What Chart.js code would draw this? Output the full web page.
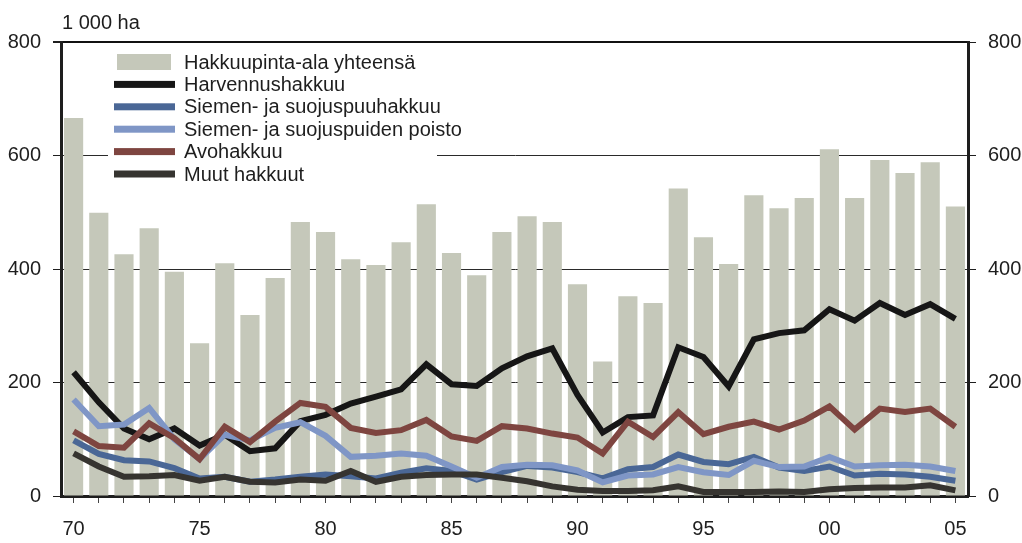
<!DOCTYPE html>
<html><head><meta charset="utf-8">
<script src="https://cdn.jsdelivr.net/npm/chart.js@4"></script>
<style>html,body{margin:0;padding:0;background:#fff}#wrap{width:1022px;height:543px;position:relative}</style>
</head><body><div id="wrap"><canvas id="c" width="1022" height="543"></canvas></div>
<script>
const years = [1970,1971,1972,1973,1974,1975,1976,1977,1978,1979,1980,1981,1982,1983,1984,1985,1986,1987,1988,1989,1990,1991,1992,1993,1994,1995,1996,1997,1998,1999,2000,2001,2002,2003,2004,2005];
const yTicks = [0,200,400,600,800];
const unitLabel = '1 000 ha';
const seriesNames = ['Hakkuupinta-ala yhteensä','Harvennushakkuu','Siemen- ja suojuspuuhakkuu','Siemen- ja suojuspuiden poisto','Avohakkuu','Muut hakkuut'];
const total = [666,499,426,472,395,269,410,319,384,483,465,417,407,447,514,428,389,465,493,483,373,237,352,340,542,456,409,530,507,525,611,525,592,569,588,510];
const harvennus = [218,165,119,100,119,89,108,79,84,132,143,163,175,188,232,197,194,225,246,260,178,112,139,142,262,245,193,276,287,292,329,309,340,319,338,312];
const siemenHakkuu = [98,74,63,61,49,31,34,25,29,34,38,35,31,41,49,44,29,42,53,50,42,31,47,51,73,60,56,69,50,44,52,36,39,38,34,27];
const siemenPoisto = [170,123,126,155,100,65,108,98,120,130,106,69,71,75,71,52,32,51,55,54,45,24,36,38,51,42,37,62,51,52,69,52,54,55,52,44];
const avohakkuu = [114,88,85,128,102,65,122,95,131,164,157,120,111,116,134,105,97,123,119,110,103,75,131,104,148,109,122,131,117,133,158,117,154,148,154,122];
const muut = [75,52,34,35,37,27,34,25,24,29,27,44,25,34,37,38,38,32,26,17,11,9,9,10,17,7,7,7,8,7,12,14,15,15,19,10];

const FONT = "'Liberation Sans', Arial, Helvetica, sans-serif";
const TXT = '#1e1e1e';
const colors = ['#c5c8ba','#161616','#4a6796','#7f96c6','#7e4540','#363430'];

const lineDs = (label, data, color, order) => ({
  type:'line', label, data, borderColor:color, backgroundColor:color, borderWidth:6,
  pointRadius:0, tension:0, borderJoinStyle:'miter', borderCapStyle:'butt', fill:false, order, yAxisID:'y'
});

const legendPlugin = {
  id:'inlegend',
  beforeDatasetsDraw(chart){
    const ctx = chart.ctx; ctx.save();
    ctx.fillStyle = '#fff'; ctx.fillRect(108, 47, 329, 138);
    ctx.restore();
  },
  afterDraw(chart){
    const ctx = chart.ctx; ctx.save();
    const ds = chart.data.datasets;
    ctx.font = '20px ' + FONT; ctx.textBaseline = 'middle'; ctx.fillStyle = TXT;
    for (let i = 0; i < ds.length; i++) {
      const cy = 62 + i * 22.4;
      if (ds[i].type === 'bar') {
        ctx.fillStyle = ds[i].backgroundColor; ctx.fillRect(117, cy - 8, 54, 16);
      } else {
        ctx.fillStyle = ds[i].borderColor; ctx.fillRect(114, cy - 3.5, 61, 7);
      }
      ctx.fillStyle = TXT; ctx.fillText(ds[i].label, 184, cy + 1);
    }
    ctx.textBaseline = 'alphabetic';
    ctx.fillText(unitLabel, 62, 29);
    ctx.restore();
  }
};

const yCommon = {
  min:0, max:800,
  afterBuildTicks(s){ s.ticks = yTicks.map(v => ({value:v})); },
  ticks:{ font:{family:FONT, size:20}, color:TXT, padding:12 },
  border:{ color:'#1e1e1e', width:3 }
};

new Chart(document.getElementById('c'), {
  data:{
    labels: years,
    datasets:[
      { type:'bar', label:seriesNames[0], data:total, backgroundColor:colors[0], barPercentage:0.76, categoryPercentage:1.0, order:10, yAxisID:'y' },
      lineDs(seriesNames[1], harvennus, colors[1], 5),
      lineDs(seriesNames[2], siemenHakkuu, colors[2], 4),
      lineDs(seriesNames[3], siemenPoisto, colors[3], 3),
      lineDs(seriesNames[4], avohakkuu, colors[4], 2),
      lineDs(seriesNames[5], muut, colors[5], 1)
    ]
  },
  options:{
    responsive:false, animation:false, devicePixelRatio:1,
    layout:{ padding:{ top:42, left:0, right:0, bottom:0 } },
    plugins:{ legend:{display:false}, tooltip:{enabled:false}, title:{display:false} },
    scales:{
      x:{
        type:'category', offset:true,
        grid:{ offset:false, drawOnChartArea:false, tickLength:7, tickColor:'#444', tickWidth:1 },
        border:{ color:'#1e1e1e', width:3 },
        ticks:{ autoSkip:false, maxRotation:0, font:{family:FONT, size:20}, color:TXT, padding:14,
          callback(v, i){ const y = years[i]; return y % 5 === 0 ? String(y % 100).padStart(2,'0') : ''; } },
        afterFit(s){ s.height = 47; }
      },
      y: Object.assign({}, yCommon, {
        position:'left',
        grid:{ color:(c)=> c.tick && c.tick.value === 800 ? '#111' : '#2a2a2a',
               lineWidth:(c)=> c.tick && c.tick.value === 800 ? 2 : 1,
               tickLength:8, tickColor:'#1e1e1e' },
        afterFit(s){ s.width = 61; }
      }),
      y2: Object.assign({}, yCommon, {
        position:'right',
        grid:{ drawOnChartArea:false, tickLength:8, tickColor:'#1e1e1e' },
        afterFit(s){ s.width = 54; }
      })
    }
  },
  plugins:[legendPlugin]
});
</script>
</body></html>
